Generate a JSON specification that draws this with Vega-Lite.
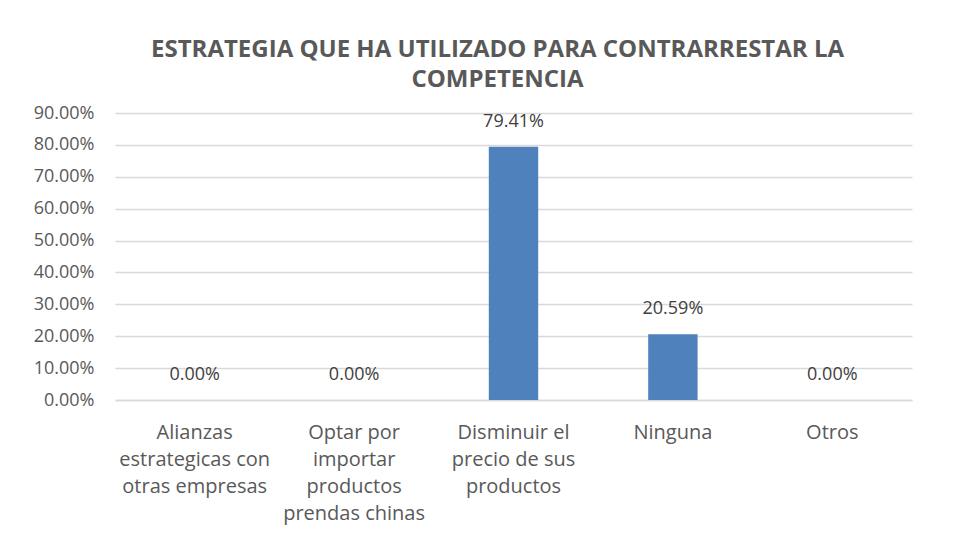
{
  "$schema": "https://vega.github.io/schema/vega-lite/v6.json",
  "autosize": "none",
  "width": 797,
  "height": 287,
  "padding": {"left": 115, "top": 113, "right": 59, "bottom": 133},
  "background": "white",
  "title": {
    "text": ["ESTRATEGIA QUE HA UTILIZADO PARA CONTRARRESTAR LA", "COMPETENCIA"],
    "font": "Open Sans",
    "fontSize": 24,
    "fontWeight": "bold",
    "color": "#595959",
    "lineHeight": 30,
    "anchor": "middle",
    "dx": -16,
    "offset": 12
  },
  "data": {
    "values": [
      {"cat": "Alianzas estrategicas con otras empresas", "value": 0},
      {"cat": "Optar por importar productos prendas chinas", "value": 0},
      {"cat": "Disminuir el precio de sus productos", "value": 0.7941},
      {"cat": "Ninguna", "value": 0.2059},
      {"cat": "Otros", "value": 0}
    ]
  },
  "encoding": {
    "x": {
      "field": "cat",
      "type": "nominal",
      "sort": null,
      "scale": {"paddingInner": 0.69, "paddingOuter": 0.345},
      "axis": {
        "title": null,
        "labelAngle": 0,
        "labelFont": "Open Sans",
        "labelFontSize": 20,
        "labelColor": "#595959",
        "labelLineHeight": 27,
        "labelPadding": 22,
        "labelBaseline": "top",
        "ticks": false,
        "domainColor": "#D9D9D9",
        "domainWidth": 1.5,
        "labelExpr": "datum.value == 'Alianzas estrategicas con otras empresas' ? ['Alianzas', 'estrategicas con', 'otras empresas'] : datum.value == 'Optar por importar productos prendas chinas' ? ['Optar por', 'importar', 'productos', 'prendas chinas'] : datum.value == 'Disminuir el precio de sus productos' ? ['Disminuir el', 'precio de sus', 'productos'] : datum.value"
      }
    },
    "y": {
      "field": "value",
      "type": "quantitative",
      "scale": {"domain": [0, 0.9], "nice": false},
      "axis": {
        "title": null,
        "format": ".2%",
        "values": [0, 0.1, 0.2, 0.3, 0.4, 0.5, 0.6, 0.7, 0.8, 0.9],
        "labelFont": "Open Sans",
        "labelFontSize": 18,
        "labelColor": "#595959",
        "labelPadding": 21,
        "domain": false,
        "ticks": false,
        "gridColor": "#D9D9D9",
        "gridWidth": 1.5
      }
    }
  },
  "layer": [
    {"mark": {"type": "bar", "color": "#4F81BD"}},
    {
      "mark": {"type": "text", "baseline": "bottom", "dy": -16, "font": "Open Sans", "fontSize": 18, "color": "#404040"},
      "encoding": {"text": {"field": "value", "type": "quantitative", "format": ".2%"}}
    }
  ],
  "config": {"view": {"stroke": null}}
}
